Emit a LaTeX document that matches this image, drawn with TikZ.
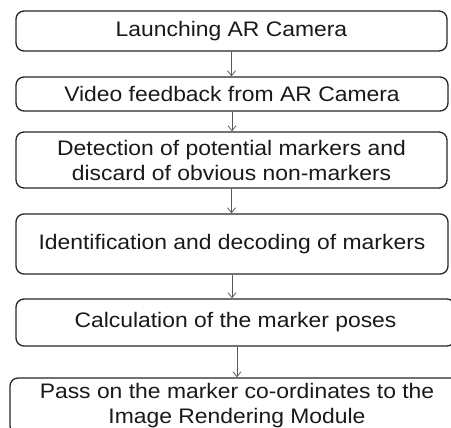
\documentclass[tikz,border=0pt]{standalone}
\usepackage{fontspec}
\setmainfont{Liberation Sans}[FakeStretch=1.09]
\usetikzlibrary{arrows.meta}

\begin{document}
\begin{tikzpicture}[x=1pt,y=-1pt,
    stepbox/.style={draw=black!85, line width=1.3pt, rounded corners=8pt, inner sep=0pt,
      align=center, text=black!90, font=\fontsize{21}{25}\selectfont},
    flow/.style={draw=black!65, line width=0.8pt, -{Straight Barb[length=5pt,width=8pt]}}]
\useasboundingbox (0,0) rectangle (451,428);

          \node [stepbox, minimum width=431pt, minimum height=40pt] at (231.5,31) (launch) {Launching AR Camera};
             \node [stepbox, minimum width=432pt, minimum height=34pt] at (232,94) (video) {Video feedback from AR Camera};
              \node [stepbox, minimum width=431pt, minimum height=56pt] at (231.5,160) (detect) {Detection of potential markers and\\discard of obvious non-markers};
               \node [stepbox, minimum width=432pt, minimum height=60pt] at (232,244) (ident) {Identification and decoding of markers};
                \node [stepbox, minimum width=439pt, minimum height=47pt] at (235.5,322.5) (pose) {Calculation of the marker poses};
                 \node [stepbox, minimum width=454pt, minimum height=56pt] at (237,406) (pass) {Pass on the marker co-ordinates to the\\Image Rendering Module};
%
%
\draw[flow] (launch.south) -- (launch.south |- video.north);
\draw[flow] (video.south) -- (video.south |- detect.north);
\draw[flow] (detect.south) -- (detect.south |- ident.north);
\draw[flow] (ident.south) -- (ident.south |- pose.north);
\draw[flow] (pose.south -| pass.north) -- (pass.north);

\end{tikzpicture}
\end{document}
